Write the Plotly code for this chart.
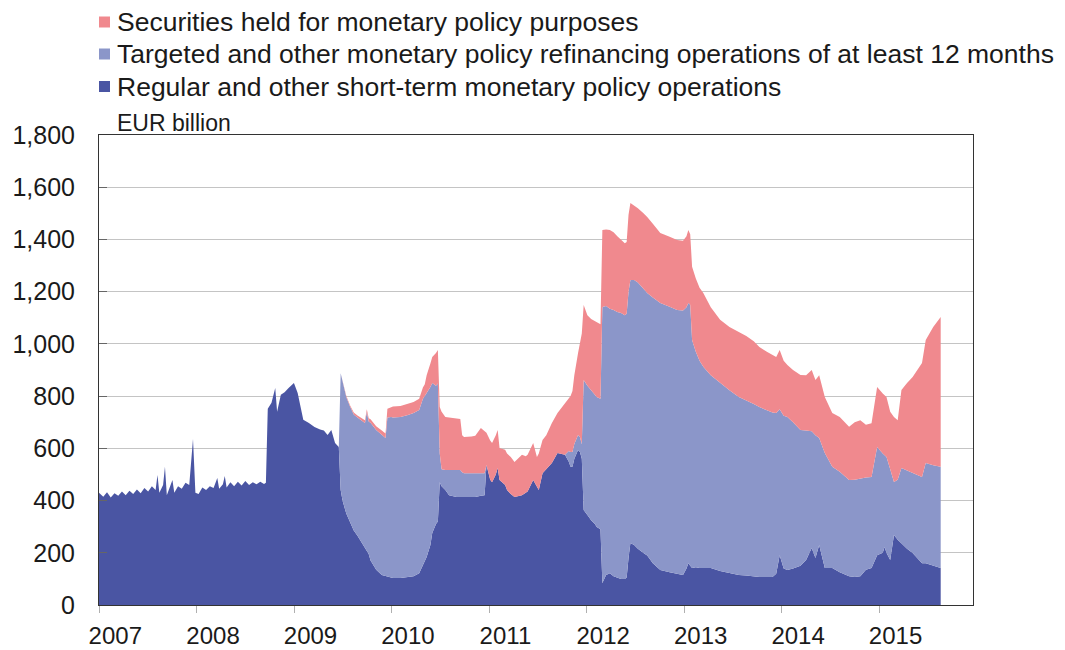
import plotly.graph_objects as go

# ---------------- data (EUR billion) ----------------
dates = [
    # 2007
    "2007-01-01", "2007-01-17", "2007-01-31", "2007-02-14", "2007-02-28", "2007-03-14",
    "2007-03-28", "2007-04-11", "2007-04-25", "2007-05-09", "2007-05-23", "2007-06-06",
    "2007-06-20", "2007-07-04", "2007-07-18", "2007-08-01", "2007-08-08", "2007-08-15",
    "2007-08-29", "2007-09-05", "2007-09-12", "2007-09-26", "2007-10-03", "2007-10-10",
    "2007-10-24", "2007-11-07", "2007-11-21", "2007-12-05", "2007-12-19", "2007-12-28",
    # 2008
    "2008-01-09", "2008-01-23", "2008-02-06", "2008-02-20", "2008-03-05", "2008-03-19",
    "2008-03-26", "2008-04-09", "2008-04-16", "2008-04-23", "2008-05-07", "2008-05-21",
    "2008-06-04", "2008-06-18", "2008-07-02", "2008-07-16", "2008-07-30", "2008-08-13",
    "2008-08-27", "2008-09-10", "2008-09-17", "2008-09-24", "2008-10-08", "2008-10-22",
    "2008-10-29", "2008-11-12", "2008-11-26", "2008-12-10", "2008-12-24", "2008-12-31",
    # 2009
    "2009-01-14", "2009-02-04", "2009-02-25", "2009-03-18", "2009-04-08", "2009-04-22",
    "2009-05-06", "2009-05-20", "2009-06-03", "2009-06-17", "2009-06-24", "2009-07-01",
    "2009-07-15", "2009-07-29", "2009-08-12", "2009-08-26", "2009-09-16", "2009-09-23",
    "2009-09-30", "2009-10-07", "2009-10-14", "2009-11-04", "2009-11-25", "2009-12-09",
    "2009-12-16", "2009-12-30",
    # 2010
    "2010-01-06", "2010-02-03", "2010-03-03", "2010-03-24", "2010-04-14", "2010-04-28",
    "2010-05-05", "2010-05-12", "2010-05-26", "2010-06-02", "2010-06-16", "2010-06-23",
    "2010-06-30", "2010-07-07", "2010-07-21", "2010-08-04", "2010-09-01", "2010-09-15",
    "2010-09-22", "2010-09-29", "2010-10-27", "2010-11-10", "2010-12-01", "2010-12-15",
    "2010-12-22",
    # 2011
    "2011-01-05", "2011-01-12", "2011-01-26", "2011-02-02", "2011-02-09", "2011-03-02",
    "2011-03-09", "2011-03-23", "2011-04-06", "2011-05-04", "2011-05-18", "2011-05-25",
    "2011-06-15", "2011-06-29", "2011-07-06", "2011-07-20", "2011-08-03", "2011-08-24",
    "2011-09-14", "2011-10-12", "2011-10-26", "2011-11-02", "2011-11-09", "2011-11-16",
    "2011-11-30", "2011-12-07", "2011-12-14", "2011-12-21",
    # 2012
    "2012-01-04", "2012-01-18", "2012-02-01", "2012-02-08", "2012-02-22", "2012-02-29",
    "2012-03-14", "2012-03-28", "2012-04-11", "2012-04-25", "2012-05-09", "2012-05-23",
    "2012-05-30", "2012-06-06", "2012-06-13", "2012-06-27", "2012-07-11", "2012-08-01",
    "2012-08-15", "2012-09-05", "2012-10-03", "2012-11-07", "2012-12-05", "2012-12-27",
    # 2013
    "2013-01-09", "2013-01-16", "2013-01-23", "2013-01-30", "2013-02-13", "2013-02-27",
    "2013-03-13", "2013-04-10", "2013-05-15", "2013-06-19", "2013-07-24", "2013-08-21",
    "2013-09-18", "2013-10-09", "2013-11-06", "2013-11-27", "2013-12-11", "2013-12-24",
    # 2014
    "2014-01-08", "2014-01-22", "2014-02-12", "2014-03-12", "2014-04-02", "2014-04-23",
    "2014-05-07", "2014-05-21", "2014-06-11", "2014-07-09", "2014-08-06", "2014-09-10",
    "2014-10-01", "2014-10-22", "2014-11-12", "2014-12-03", "2014-12-24",
    # 2015
    "2015-01-14", "2015-01-21", "2015-01-28", "2015-02-11", "2015-02-25", "2015-03-11",
    "2015-03-25", "2015-04-15", "2015-05-06", "2015-06-10", "2015-06-24", "2015-07-22",
    "2015-08-19",
]

regular = [
    # 2007
    430, 415, 432, 412, 428, 418, 435, 420, 438, 425, 442, 428, 448, 435, 455, 440, 498, 430,
    460, 529, 420, 465, 479, 430, 455, 445, 468, 460, 636, 430,
    # 2008
    425, 450, 440, 455, 448, 486, 445, 462, 494, 450, 470, 455, 472, 458, 475, 460, 470, 462,
    472, 463, 468, 752, 775, 831, 740, 805, 815, 830, 845, 850,
    # 2009
    812, 709, 697, 682, 672, 668, 651, 670, 620, 605, 440, 400, 350, 320, 285, 265, 230, 220,
    210, 195, 170, 135, 115, 110, 108, 105,
    # 2010
    103, 103, 106, 110, 122, 150, 170, 184, 230, 276, 310, 320, 470, 455, 440, 420, 414, 414,
    414, 416, 414, 414, 418, 420, 536,
    # 2011
    480, 470, 500, 525, 479, 460, 440, 425, 414, 420, 429, 435, 479, 455, 440, 505, 520, 544,
    582, 575, 550, 529, 529, 560, 594, 586, 560, 364,
    # 2012
    345, 325, 310, 299, 290, 84, 115, 122, 110, 105, 100, 100, 105, 180, 237, 230, 215, 199,
    190, 160, 134, 125, 118, 115,
    # 2013
    140, 160, 150, 142, 145, 142, 142, 142, 130, 122, 115, 113, 110, 107, 107, 107, 120, 191,
    # 2014
    140, 134, 140, 150, 172, 218, 180, 230, 142, 142, 125, 110, 107, 110, 135, 142, 191,
    # 2015
    200, 222, 200, 172, 268, 250, 236, 215, 199, 160, 160, 150, 142,
]

targeted = [
    # 2007
    0, 0, 0, 0, 0, 0, 0, 0, 0, 0, 0, 0, 0, 0, 0, 0, 0, 0, 0, 0, 0, 0, 0, 0, 0, 0, 0, 0, 0, 0,
    # 2008
    0, 0, 0, 0, 0, 0, 0, 0, 0, 0, 0, 0, 0, 0, 0, 0, 0, 0, 0, 0, 0, 0, 0, 0, 0, 0, 0, 0, 0, 0,
    # 2009
    0, 0, 0, 0, 0, 0, 0, 0, 0, 0, 448, 460, 447, 440, 445, 453, 470, 477, 529, 508, 528, 535,
    537, 530, 610, 615,
    # 2010
    615, 617, 622, 625, 625, 640, 630, 627, 605, 574, 530, 528, 110, 65, 77, 97, 103, 103,
    94, 89, 91, 91, 87, 85, 0,
    # 2011
    0, 0, 0, 0, 0, 0, 0, 0, 0, 0, 0, 0, 0, 0, 0, 0, 0, 0, 0, 0, 40, 57, 57, 57, 57, 57, 57, 498,
    # 2012
    495, 497, 498, 498, 500, 1057, 1030, 1013, 1020, 1017, 1018, 1010, 1010, 1020, 1008, 1015,
    1020, 1011, 1005, 1018, 1023, 1017, 1012, 1013,
    # 2013
    1000, 997, 1000, 873, 825, 793, 770, 738, 720, 700, 682, 672, 660, 651, 638, 630, 615, 559,
    # 2014
    585, 586, 560, 520, 496, 447, 470, 410, 440, 387, 385, 369, 373, 375, 353, 348, 414,
    # 2015
    380, 353, 367, 348, 203, 230, 289, 300, 306, 330, 384, 385, 387,
]

securities = [
    # 2007
    0, 0, 0, 0, 0, 0, 0, 0, 0, 0, 0, 0, 0, 0, 0, 0, 0, 0, 0, 0, 0, 0, 0, 0, 0, 0, 0, 0, 0, 0,
    # 2008
    0, 0, 0, 0, 0, 0, 0, 0, 0, 0, 0, 0, 0, 0, 0, 0, 0, 0, 0, 0, 0, 0, 0, 0, 0, 0, 0, 0, 0, 0,
    # 2009
    0, 0, 0, 0, 0, 0, 0, 0, 0, 0, 0, 2, 4, 5, 7, 8, 10, 11, 11, 12, 13, 15, 16, 17, 34, 38,
    # 2010
    42, 42, 42, 42, 43, 43, 45, 69, 90, 100, 125, 129, 178, 220, 203, 201, 199, 195,
    142, 138, 140, 143, 173, 160, 124,
    # 2011
    150, 150, 150, 145, 122, 135, 140, 142, 134, 155, 141, 140, 141, 112, 140, 127, 130, 153,
    153, 198, 200, 214, 234, 263, 314, 357, 423, 287,
    # 2012
    270, 273, 279, 283, 285, 295, 293, 301, 298, 290, 280, 275, 275, 295, 295, 285, 284, 290,
    291, 282, 268, 268, 268, 267,
    # 2013
    272, 279, 270, 280, 280, 280, 283, 260, 242, 243, 248, 245, 240, 230, 225, 220, 215, 227,
    # 2014
    210, 199, 200, 211, 212, 235, 212, 240, 215, 206, 210, 204, 220, 223, 202, 206, 230,
    # 2015
    230, 230, 230, 220, 249, 228, 298, 335, 368, 437, 471, 530, 574,
]

series_names = [
    "Regular and other short-term monetary policy operations",
    "Targeted and other monetary policy refinancing operations of at least 12 months",
    "Securities held for monetary policy purposes",
]
series_colors = ["#4a55a3", "#8b96c9", "#f0898e"]

year_labels = ["2007", "2008", "2009", "2010", "2011", "2012", "2013", "2014", "2015"]
year_label_pos = [y + "-03-03" for y in year_labels]
year_starts = [y + "-01-01" for y in year_labels]
y_ticks = [0, 200, 400, 600, 800, 1000, 1200, 1400, 1600, 1800]

# ---------------- layout geometry (page pixels; the page body adds an 8px offset) ----------------
OFF = 8
W, H = 1065 - OFF, 650 - OFF
PLOT_L, PLOT_R, PLOT_T, PLOT_B = 99, 973, 135, 605          # wanted plot box on the page
ML, MT = PLOT_L - OFF, PLOT_T - OFF
MR, MB = W - (PLOT_R - OFF), H - (PLOT_B - OFF)
PW, PH = PLOT_R - PLOT_L, PLOT_B - PLOT_T


def px_x(px):
    return (px - PLOT_L) / PW


def px_y(py):
    return (PLOT_B - py) / PH


# ---------------- figure ----------------
fig = go.Figure()
for vals, name, col in zip([regular, targeted, securities], series_names, series_colors):
    fig.add_trace(go.Scatter(
        x=dates, y=vals, name=name, mode="lines", stackgroup="one",
        line=dict(width=0, color=col), fillcolor=col, showlegend=False,
        hovertemplate="%{x|%d %b %Y}: %{y} bn<extra>" + name + "</extra>",
    ))

# legend drawn as squares + texts (top to bottom: securities, targeted, regular)
shapes = []
annotations = []
for row_y, name, col in zip([22, 54, 86.5], series_names[::-1], series_colors[::-1]):
    shapes.append(dict(
        type="rect", xref="paper", yref="paper",
        x0=px_x(99), x1=px_x(110), y0=px_y(row_y + 5.5), y1=px_y(row_y - 5.5),
        fillcolor=col, line=dict(width=0),
    ))
    annotations.append(dict(
        text=name, xref="paper", yref="paper", x=px_x(116), y=px_y(row_y),
        xanchor="left", yanchor="middle", showarrow=False, font=dict(size=26.5),
        borderpad=0,
    ))
annotations.append(dict(
    text="EUR billion", xref="paper", yref="paper",
    x=px_x(115), y=px_y(123), xanchor="left", yanchor="middle",
    showarrow=False, font=dict(size=23),
))

fig.update_layout(
    width=W, height=H,
    margin=dict(l=ML, r=MR, t=MT, b=MB, autoexpand=False),
    paper_bgcolor="white", plot_bgcolor="white",
    font=dict(family="Liberation Sans, Arial, sans-serif", size=24, color="#1a1a1a"),
    showlegend=False,
    shapes=shapes,
    annotations=annotations,
)

fig.update_xaxes(
    type="date", range=["2007-01-01", "2015-12-18"], automargin=False,
    tickmode="array", tickvals=year_label_pos, ticktext=year_labels,
    ticks="", ticklabelstandoff=9,
    showgrid=False, zeroline=False,
    showline=True, linecolor="#333333", linewidth=1, mirror=True,
    minor=dict(tickmode="array", tickvals=year_starts, ticks="outside",
               ticklen=7, tickcolor="#b0b0b0", tickwidth=1, showgrid=False),
)
fig.update_yaxes(
    range=[0, 1800], automargin=False, tickmode="array", tickvals=y_ticks, tickformat=",d",
    tickfont=dict(size=25),
    ticks="inside", ticklen=8, tickcolor="#666666", ticklabelstandoff=18,
    showgrid=True, gridcolor="#c4c4c4", gridwidth=1, zeroline=False,
    showline=True, linecolor="#333333", linewidth=1, mirror=True,
)

fig.write_html("out.html")
